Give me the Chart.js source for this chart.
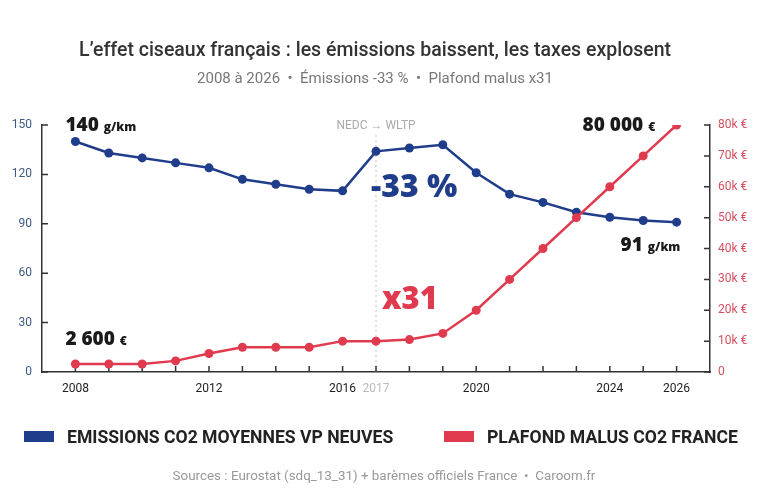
<!DOCTYPE html>
<html>
<head>
<meta charset="utf-8">
<script src="https://cdn.jsdelivr.net/npm/chart.js@4.4.1/dist/chart.umd.min.js"></script>
<style>
  html, body { margin: 0; padding: 0; background: #fff; }
  #wrap { width: 776px; height: 493px; }
</style>
</head>
<body>
<div id="wrap"><canvas id="chart" width="776" height="493"></canvas></div>
<script>
// data
const years = [2008, 2009, 2010, 2011, 2012, 2013, 2014, 2015, 2016, 2017, 2018, 2019, 2020, 2021, 2022, 2023, 2024, 2025, 2026];
const emissions = [140, 133, 130, 127, 124, 117, 114, 111, 110, 134, 136, 138, 121, 108, 103, 97, 94, 92, 91];
const malus = [2600, 2600, 2600, 3600, 6000, 8000, 8000, 8000, 10000, 10000, 10500, 12500, 20000, 30000, 40000, 50000, 60000, 70000, 80000];
const shownYears = [2008, 2012, 2016, 2017, 2020, 2024, 2026];
const switchYear = 2017;

const BLUE = "#1f3d8a";
const RED = "#e03a4f";
const TITLE = "L\u2019effet ciseaux fran\u00e7ais : les \u00e9missions baissent, les taxes explosent";
const SUBTITLE = "2008 \u00e0 2026  \u2022  \u00c9missions -33 %  \u2022  Plafond malus x31";
const FOOTER = "Sources : Eurostat (sdq_13_31) + bar\u00e8mes officiels France  \u2022  Caroom.fr";
const seriesNames = ["EMISSIONS CO2 MOYENNES VP NEUVES", "PLAFOND MALUS CO2 FRANCE"];

// draws "big small" text pieces side by side, left aligned at x
function rich(ctx, parts, x, y) {
  ctx.textAlign = "left";
  ctx.textBaseline = "alphabetic";
  parts.forEach(([txt, font, color]) => {
    ctx.font = font;
    ctx.fillStyle = color;
    ctx.fillText(txt, x, y);
    x += ctx.measureText(txt).width;
  });
}

const decor = {
  id: "decor",
  beforeDatasetsDraw(chart) {
    const { ctx, chartArea: a, scales } = chart;
    const xs = scales.x, yl = scales.y, yr = scales.y1;
    ctx.save();
    // NEDC -> WLTP switch line
    const sx = xs.getPixelForValue(switchYear);
    ctx.strokeStyle = "#c4c4c4";
    ctx.lineWidth = 1;
    ctx.setLineDash([2, 3]);
    ctx.beginPath();
    ctx.moveTo(sx, a.top + 10);
    ctx.lineTo(sx, a.bottom);
    ctx.stroke();
    ctx.setLineDash([]);
    // inner tick marks
    ctx.strokeStyle = "#333";
    ctx.lineWidth = 1.5;
    ctx.beginPath();
    years.forEach(yv => {
      const px = xs.getPixelForValue(yv);
      ctx.moveTo(px, a.bottom);
      ctx.lineTo(px, a.bottom - 6);
    });
    yl.ticks.forEach(t => {
      const py = yl.getPixelForValue(t.value);
      ctx.moveTo(a.left, py);
      ctx.lineTo(a.left + 6, py);
    });
    yr.ticks.forEach(t => {
      const py = yr.getPixelForValue(t.value);
      ctx.moveTo(a.right, py);
      ctx.lineTo(a.right - 6, py);
    });
    ctx.stroke();
    ctx.font = "12px Roboto";
    ctx.fillStyle = "#aaa";
    ctx.textAlign = "center";
    ctx.fillText("NEDC \u2192 WLTP", sx, a.top + 4);
    ctx.restore();
  },
  afterDatasetsDraw(chart) {
    const { ctx, scales } = chart;
    const xs = scales.x, yl = scales.y, yr = scales.y1;
    const big = "800 19px 'Open Sans'";
    const unit = "800 12px 'Open Sans'";
    ctx.save();
    const first = 0, last = years.length - 1;
    rich(ctx, [["140 ", big, "#1a1a1a"], ["g/km", unit, "#1a1a1a"]],
      xs.getPixelForValue(years[first]) - 10, yl.getPixelForValue(emissions[first]) - 10);
    rich(ctx, [["91 ", big, "#1a1a1a"], ["g/km", unit, "#1a1a1a"]],
      xs.getPixelForValue(years[last]) - 56, yl.getPixelForValue(emissions[last]) + 29);
    rich(ctx, [["2 600 ", big, "#1a1a1a"], ["\u20ac", unit, "#1a1a1a"]],
      xs.getPixelForValue(years[first]) - 10, yr.getPixelForValue(malus[first]) - 19);
    rich(ctx, [["80 000 ", big, "#1a1a1a"], ["\u20ac", unit, "#1a1a1a"]],
      xs.getPixelForValue(years[last]) - 94, yr.getPixelForValue(malus[last]) + 6);
    const sx = xs.getPixelForValue(switchYear);
    rich(ctx, [["-33 %", "800 32px 'Open Sans'", BLUE]], sx - 5, yl.getPixelForValue(emissions[9]) + 46);
    rich(ctx, [["x31", "800 31px 'Open Sans'", RED]], sx + 6, yr.getPixelForValue(malus[9]) - 32);
    ctx.restore();
  },
  afterDraw(chart) {
    const { ctx, width } = chart;
    ctx.save();
    ctx.textAlign = "center";
    ctx.textBaseline = "alphabetic";
    ctx.fillStyle = "#333";
    ctx.font = "500 19.5px Roboto";
    ctx.fillText(TITLE, width / 2 - 13, 56);
    ctx.fillStyle = "#777";
    ctx.font = "15px Roboto";
    ctx.fillText(SUBTITLE, width / 2 - 13, 83);
    ctx.fillStyle = "#999";
    ctx.font = "13.4px Roboto";
    ctx.fillText(FOOTER, width / 2 - 4, 480);
    // legend
    const items = [[seriesNames[0], BLUE, 24], [seriesNames[1], RED, 444]];
    ctx.textAlign = "left";
    ctx.font = "bold 17.6px Roboto";
    items.forEach(([name, col, x]) => {
      ctx.fillStyle = col;
      ctx.fillRect(x, 431, 30, 11);
      ctx.fillStyle = "#222";
      ctx.fillText(name, x + 43, 443);
    });
    ctx.restore();
  }
};

new Chart(document.getElementById("chart").getContext("2d"), {
  type: "line",
  data: {
    datasets: [
      {
        label: seriesNames[0],
        data: years.map((y, i) => ({ x: y, y: emissions[i] })),
        yAxisID: "y",
        borderColor: BLUE,
        backgroundColor: BLUE,
        borderWidth: 2.5,
        pointRadius: 4.5,
        pointBorderWidth: 0,
        tension: 0,
        order: 2,
      },
      {
        label: seriesNames[1],
        data: years.map((y, i) => ({ x: y, y: malus[i] })),
        yAxisID: "y1",
        borderColor: RED,
        backgroundColor: RED,
        borderWidth: 2.5,
        pointRadius: 4.5,
        pointBorderWidth: 0,
        tension: 0,
        order: 1,
      },
    ],
  },
  options: {
    responsive: false,
    animation: false,
    devicePixelRatio: 1,
    layout: { padding: { top: 125, left: 0, right: 0, bottom: 0 } },
    plugins: { legend: { display: false }, title: { display: false }, tooltip: { enabled: false } },
    scales: {
      x: {
        type: "linear",
        min: 2007,
        max: 2027,
        afterFit: s => { s.height = 121; },
        afterBuildTicks: s => { s.ticks = shownYears.map(v => ({ value: v })); },
        grid: { display: false, drawTicks: false },
        border: { display: true, color: "#333", width: 1.5 },
        ticks: {
          padding: 10,
          autoSkip: false,
          maxRotation: 0,
          callback: v => String(v),
          color: c => (c.tick && c.tick.value === switchYear ? "#bbb" : "#222"),
          font: { family: "Roboto", size: 12 },
        },
      },
      y: {
        position: "left",
        min: 0,
        max: 150,
        afterFit: s => { s.width = 42; },
        grid: { display: false, drawTicks: false },
        border: { display: true, color: "#333", width: 1.5 },
        ticks: { stepSize: 30, padding: 10, color: "#3d5a86", font: { family: "Roboto", size: 12 } },
      },
      y1: {
        position: "right",
        min: 0,
        max: 80000,
        afterFit: s => { s.width = 66; },
        grid: { display: false, drawTicks: false },
        border: { display: true, color: "#333", width: 1.5 },
        ticks: {
          stepSize: 10000,
          padding: 8,
          color: "#d5505f",
          font: { family: "Roboto", size: 12 },
          callback: v => (v === 0 ? "0" : v / 1000 + "k \u20ac"),
        },
      },
    },
  },
  plugins: [decor],
});
</script>
</body>
</html>
